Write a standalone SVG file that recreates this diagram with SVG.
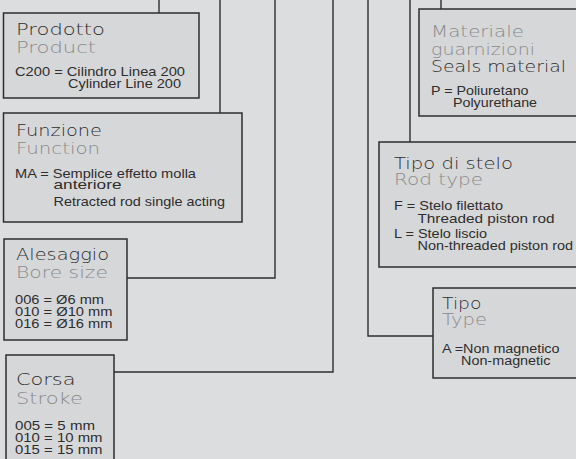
<svg xmlns="http://www.w3.org/2000/svg" width="576" height="459" viewBox="0 0 576 459">
<style>
.box{fill:#d6d7d9;stroke:#2e2e2e;stroke-width:1.5}
.ln{fill:none;stroke:#2e2e2e;stroke-width:1.4}
.t{font-family:"DejaVu Sans",sans-serif;font-weight:200;font-size:15px;fill:#2e2e2e}
.s{font-family:"DejaVu Sans",sans-serif;font-weight:200;font-size:15px;fill:#8a8a8a}
.b{font-family:"Liberation Sans",Arial,sans-serif;font-size:13px;fill:#2e2e2e}
</style>
<rect width="576" height="459" fill="#dcdddf"/>
<g id="connectors">
<path class="ln" d="M159 0V13"/>
<path class="ln" d="M220 0V113"/>
<path class="ln" d="M275 0V278H127"/>
<path class="ln" d="M333 0V372H114"/>
<path class="ln" d="M368 0V336H433"/>
<path class="ln" d="M410 0V142"/>
<path class="ln" d="M441 0V9"/>
</g>
<g id="prodotto">
<rect class="box" x="3.5" y="13" width="195.5" height="85"/>
<text class="t" x="16" y="34.5" textLength="89" lengthAdjust="spacingAndGlyphs">Prodotto</text>
<text class="s" x="16" y="52.5" textLength="80" lengthAdjust="spacingAndGlyphs">Product</text>
<text class="b" x="15" y="76" textLength="170" lengthAdjust="spacingAndGlyphs">C200 = Cilindro Linea 200</text>
<text class="b" x="68" y="87.5" textLength="113" lengthAdjust="spacingAndGlyphs">Cylinder Line 200</text>
</g>
<g id="funzione">
<rect class="box" x="3.5" y="113" width="238.5" height="109"/>
<text class="t" x="16" y="136" textLength="86" lengthAdjust="spacingAndGlyphs">Funzione</text>
<text class="s" x="16" y="154" textLength="84" lengthAdjust="spacingAndGlyphs">Function</text>
<text class="b" x="15" y="177.5" textLength="181" lengthAdjust="spacingAndGlyphs">MA = Semplice effetto molla</text>
<text class="b" x="53.5" y="188.5" textLength="68" lengthAdjust="spacingAndGlyphs">anteriore</text>
<text class="b" x="53.5" y="206" textLength="171.5" lengthAdjust="spacingAndGlyphs">Retracted rod single acting</text>
</g>
<g id="alesaggio">
<rect class="box" x="4" y="239" width="123" height="101"/>
<text class="t" x="16" y="259.5" textLength="93" lengthAdjust="spacingAndGlyphs">Alesaggio</text>
<text class="s" x="16" y="277.5" textLength="92" lengthAdjust="spacingAndGlyphs">Bore size</text>
<text class="b" x="15" y="303.5" textLength="89" lengthAdjust="spacingAndGlyphs">006 = Ø6 mm</text>
<text class="b" x="15" y="315.5" textLength="97.5" lengthAdjust="spacingAndGlyphs">010 = Ø10 mm</text>
<text class="b" x="15" y="327.5" textLength="97.5" lengthAdjust="spacingAndGlyphs">016 = Ø16 mm</text>
</g>
<g id="corsa">
<rect class="box" x="6" y="355" width="108" height="115"/>
<text class="t" x="16" y="385" textLength="59.5" lengthAdjust="spacingAndGlyphs">Corsa</text>
<text class="s" x="16" y="403.5" textLength="67" lengthAdjust="spacingAndGlyphs">Stroke</text>
<text class="b" x="15" y="429.5" textLength="80" lengthAdjust="spacingAndGlyphs">005 = 5 mm</text>
<text class="b" x="15" y="441.5" textLength="87.5" lengthAdjust="spacingAndGlyphs">010 = 10 mm</text>
<text class="b" x="15" y="453.5" textLength="87.5" lengthAdjust="spacingAndGlyphs">015 = 15 mm</text>
</g>
<g id="materiale">
<rect class="box" x="419" y="9" width="170" height="107"/>
<text class="s" x="431" y="37" textLength="93" lengthAdjust="spacingAndGlyphs">Materiale</text>
<text class="s" x="431" y="54.5" textLength="104" lengthAdjust="spacingAndGlyphs">guarnizioni</text>
<text class="t" x="431" y="72" textLength="135" lengthAdjust="spacingAndGlyphs">Seals material</text>
<text class="b" x="431" y="95" textLength="97.5" lengthAdjust="spacingAndGlyphs">P = Poliuretano</text>
<text class="b" x="453" y="106.5" textLength="84" lengthAdjust="spacingAndGlyphs">Polyurethane</text>
</g>
<g id="tipo-di-stelo">
<rect class="box" x="379" y="142" width="210" height="125"/>
<text class="t" x="394" y="168.5" textLength="119" lengthAdjust="spacingAndGlyphs">Tipo di stelo</text>
<text class="s" x="394" y="185" textLength="89" lengthAdjust="spacingAndGlyphs">Rod type</text>
<text class="b" x="394" y="210" textLength="109" lengthAdjust="spacingAndGlyphs">F = Stelo filettato</text>
<text class="b" x="417.5" y="222.5" textLength="137" lengthAdjust="spacingAndGlyphs">Threaded piston rod</text>
<text class="b" x="394" y="237.5" textLength="93" lengthAdjust="spacingAndGlyphs">L = Stelo liscio</text>
<text class="b" x="417.5" y="250" textLength="155.5" lengthAdjust="spacingAndGlyphs">Non-threaded piston rod</text>
</g>
<g id="tipo">
<rect class="box" x="433" y="288" width="156" height="90"/>
<text class="t" x="442" y="308.5" textLength="39.5" lengthAdjust="spacingAndGlyphs">Tipo</text>
<text class="s" x="442" y="325" textLength="45" lengthAdjust="spacingAndGlyphs">Type</text>
<text class="b" x="442" y="352.5" textLength="117.5" lengthAdjust="spacingAndGlyphs">A =Non magnetico</text>
<text class="b" x="461" y="364.5" textLength="89.5" lengthAdjust="spacingAndGlyphs">Non-magnetic</text>
</g>
</svg>
